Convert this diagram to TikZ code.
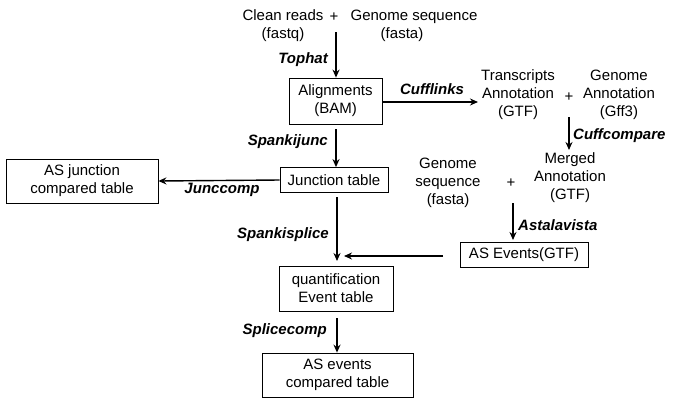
\documentclass[tikz,border=0pt]{standalone}
\usepackage{fontspec}
\setmainfont{Liberation Sans}
\usetikzlibrary{arrows.meta}
\begin{document}
\begin{tikzpicture}[x=1pt,y=-1pt,
  every node/.style={font=\fontsize{15}{18}\selectfont, align=center, inner sep=0pt},
  boxnode/.style={draw, line width=0.8pt, inner sep=0pt},
  tool/.style={font=\fontsize{15}{18}\selectfont\bfseries\itshape},
  conn/.style={line width=1.4pt, -{Stealth[length=8pt,width=7pt]}}
]
\useasboundingbox (0,0) rectangle (677,408);
% top texts
\node (clean) at (283,26) {Clean reads\\(fastq)};
\node (plus1) at (334,17) {+};
\node (gseq1) at (414,26) {Genome sequence\\(fasta)\hspace*{24pt}};
% Alignments
\node[boxnode, minimum width=93pt, minimum height=46pt] (align) at (335.5,101) {Alignments\\(BAM)};
\coordinate (topstart) at (336,32);
\draw[conn] (topstart) -- (align.north -| topstart);
\node[tool, anchor=east] (tophat) at (328,60) {Tophat};
% Transcripts + Genome annotation
\node (trans) at (518,95) {Transcripts\\Annotation\\(GTF)};
\node (plus2) at (569,97) {+};
\node (gann) at (619,95) {Genome\\Annotation\\(Gff3)};
\coordinate (cuffend) at (478,102);
\draw[conn] (align.east |- cuffend) -- (cuffend);
\node[tool] (cufflinks) at (432,89) {Cufflinks};
% Cuffcompare
\node (merged) at (570,178) {Merged\\Annotation\\(GTF)};
\coordinate (ccstart) at (569,117);
\coordinate (ccend) at (569,150);
\draw[conn] (ccstart) -- (ccend);
\node[tool, anchor=west] (cuffcomp) at (573,136) {Cuffcompare};
% Genome sequence 2
\node (gseq2) at (448,183) {Genome\\sequence\\(fasta)};
\node (plus3) at (511,183) {+};
% Junction table
\node[boxnode, minimum width=108pt, minimum height=25pt] (junc) at (334,180) {Junction table};
\draw[conn] (336,129) -- (junc.north -| 336,0);
\node[tool, anchor=east] (spankijunc) at (328,142) {Spankijunc};
% AS junction compared table
\node[boxnode, minimum width=152pt, minimum height=44pt] (asjunc) at (82,181) {AS junction\\compared table};
\draw[conn] (junc.west) -- (asjunc.east);
\node[tool] (junccomp) at (222,190) {Junccomp};
% Astalavista
\node[boxnode, minimum width=128pt, minimum height=25pt] (asev) at (524,254.5) {AS Events(GTF)};
\draw[conn] (513,203) -- (513,240);
\node[tool, anchor=west] (asta) at (518,225) {Astalavista};
% quantification
\node[boxnode, minimum width=114pt, minimum height=45pt] (quant) at (336,288.5) {quantification\\Event table};
\draw[conn] (337,197) -- (337,261);
\node[tool, anchor=east] (spanks) at (329,235) {Spankisplice};
\coordinate (mergein) at (344,256);
\draw[conn] (443,256) -- (mergein);
% AS events compared
\node[boxnode, minimum width=151pt, minimum height=44pt] (asevc) at (337.5,375) {AS events\\compared table};
\draw[conn] (quant.south -| 337,0) ++(0,7) -- (asevc.north -| 337,0);
\node[tool, anchor=east] (splicecomp) at (327,331) {Splicecomp};
\end{tikzpicture}
\end{document}
